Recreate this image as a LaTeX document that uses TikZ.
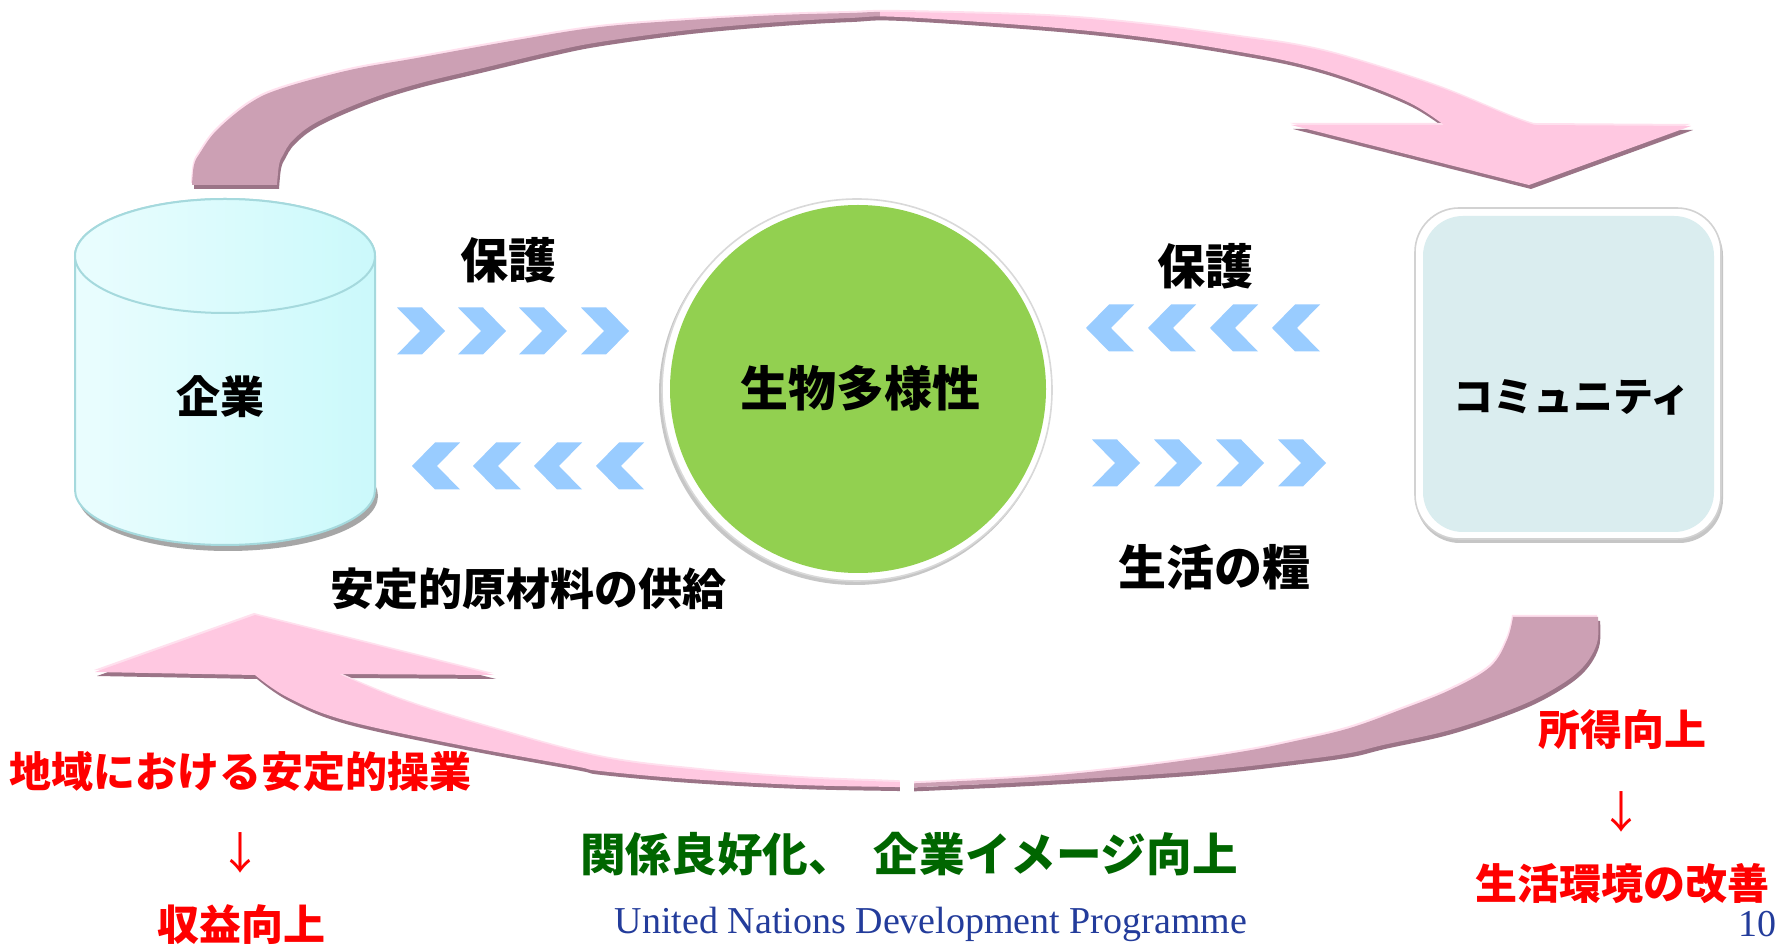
\documentclass[tikz,border=0pt]{standalone}
\usepackage{fontspec}
\setmainfont{Liberation Serif}
\newfontfamily\jp{Noto Sans CJK JP}
\definecolor{mauve}{HTML}{CCA0B4}
\definecolor{shadowc}{HTML}{9B7487}
\definecolor{pinkA}{HTML}{FFC8E1}
\definecolor{pinkL}{HTML}{FFE0EE}
\definecolor{chevc}{HTML}{99CCFF}
\definecolor{bioc}{HTML}{92D050}
\definecolor{commc}{HTML}{DAEDEF}
\definecolor{cylL}{HTML}{EAFDFE}
\definecolor{cylR}{HTML}{CBF9FB}
\definecolor{cylE}{HTML}{A5D9DD}
\definecolor{gtext}{HTML}{006600}
\definecolor{undpblue}{HTML}{233C9B}
\tikzset{
  jtext/.style={inner sep=0pt, font=\jp\bfseries\fontsize{22}{26}\selectfont},
  bigtext/.style={jtext, font=\jp\bfseries\fontsize{24}{28}\selectfont},
  redtext/.style={jtext, text=red, font=\jp\bfseries\fontsize{21}{25}\selectfont},
  arrowtext/.style={inner sep=0pt, text=red, font=\jp\fontsize{22}{26}\selectfont},
  chev/.style={fill=chevc},
}
\newcommand\chevronR[2]{\fill[chev] (#1,#2-23.5) -- (#1+25,#2-23.5) -- (#1+48,#2) -- (#1+25,#2+23.5) -- (#1,#2+23.5) -- (#1+23,#2) -- cycle;}
\newcommand\chevronL[2]{\fill[chev] (#1+48,#2-23.5) -- (#1+23,#2-23.5) -- (#1,#2) -- (#1+23,#2+23.5) -- (#1+48,#2+23.5) -- (#1+25,#2) -- cycle;}
\def\toparrow{plot[smooth,tension=0.6] coordinates {(192,185) (194,165) (200,153) (217,130) (250,103) (283,88) (350,70) (417,58) (517,40) (600,27) (689,20) (780,15) (850,13) (900,12) (1046,16) (1150,25) (1240,37) (1300,46) (1353,59) (1439,87) (1512,117) (1535,125)} -- (1691,126) -- (1529,185) -- (1291,125) -- (1444,125) -- plot[smooth,tension=0.6] coordinates {(1444,125) (1410,103) (1353,80) (1300,64) (1240,52) (1150,38) (1046,27) (900,17) (850,18) (780,22) (689,30) (600,42) (550,52) (483,68) (417,84) (367,100) (317,122) (293,140) (283,155) (279,165) (277,185)} -- cycle}
\def\botarrow{plot[smooth,tension=0.6] coordinates {(1598,617) (1597,643) (1583,667) (1557,687) (1517,707) (1450,730) (1383,745) (1350,753) (1300,760) (1200,771) (1046,781) (921,787) (905,787) (895,787) (800,785) (689,779) (600,771) (574,766) (459,745) (344,720) (287,697) (255,675)} -- (95,672) -- (255,615) -- (494,675) -- (339,674) -- plot[smooth,tension=0.6] coordinates {(339,674) (402,700) (488,727) (600,757) (700,770) (800,778) (895,782) (905,783) (921,783) (1046,776) (1150,765) (1240,752) (1300,740) (1350,728) (1400,710) (1450,690) (1490,667) (1507,640) (1513,617)} -- cycle}
\begin{document}
\begin{tikzpicture}[x=0.5pt,y=-0.5pt]
\useasboundingbox[fill=white] (0,0) rectangle (1789,945);
% top arrow
\fill[shadowc, shift={(2,4)}] \toparrow;
\fill[pinkL, shift={(-1,-2)}] \toparrow;
\begin{scope}\clip (0,0) rectangle (880,300); \fill[mauve] \toparrow; \end{scope}
\begin{scope}\clip (880,0) rectangle (1789,300); \fill[pinkA] \toparrow; \end{scope}
% bottom arrow
\fill[shadowc, shift={(2,4)}] \botarrow;
\fill[pinkL, shift={(-1,-2)}] \botarrow;
\begin{scope}\clip (0,560) rectangle (908,820); \fill[pinkA] \botarrow; \end{scope}
\begin{scope}\clip (908,560) rectangle (1789,820); \fill[mauve] \botarrow; \end{scope}
\fill[white] (900,775) rectangle (914,800);
% cylinder
\fill[gray!70] (228,496) ellipse [x radius=150, y radius=55];
\path[left color=cylL, right color=cylR, draw=cylE, line width=1pt]
  (75,256) -- (75,490) arc[start angle=180, end angle=0, x radius=150, y radius=55]
  -- (375,256) arc[start angle=0, end angle=-180, x radius=150, y radius=57] -- cycle;
\path[left color=cylL, right color=cylR, draw=cylE, line width=1pt] (225,256) ellipse [x radius=150, y radius=57];
% biodiversity circle
\fill[gray!45] (855,393) ellipse [x radius=196, y radius=192];
\fill[white, draw=gray!30, line width=0.8pt] (857,390) ellipse [x radius=195, y radius=191];
\fill[bioc] (858,389) ellipse [x radius=188, y radius=184];
% community box
\fill[gray!45, rounded corners=22pt] (1416,212) rectangle (1723,543);
\fill[white, draw=gray!35, line width=0.8pt, rounded corners=22pt] (1415,208) rectangle (1721,539);
\fill[commc, rounded corners=20pt] (1423,216) rectangle (1714,532);
% chevrons
\foreach \x in {397,458,519,581} {\chevronR{\x}{331}}
\foreach \x in {412,473,534,596} {\chevronL{\x}{466}}
\foreach \x in {1086,1148,1210,1272} {\chevronL{\x}{328}}
\foreach \x in {1092,1154,1216,1278} {\chevronR{\x}{463}}
% texts
\node[jtext] (kigyo) at (220,397) {企業};
\node[bigtext] (hogoL) at (508,260) {保護};
\node[bigtext] (hogoR) at (1205,266) {保護};
\node[bigtext] (bio) at (860,388) {生物多様性};
\node[jtext, font=\jp\bfseries\fontsize{20}{24}\selectfont] (comm) at (1572,397) {コミュニティ};
\node[jtext] (supply) at (528,589) {安定的原材料の供給};
\node[bigtext] (liveli) at (1214,567) {生活の糧};
\node[redtext] (r1) at (241,772) {地域における安定的操業};
\node[arrowtext] (ar1) at (240,853) {↓};
\node[redtext] (r2) at (241,925) {収益向上};
\node[jtext, text=gtext, font=\jp\bfseries\fontsize{22.8}{27}\selectfont] (g) at (909,854) {関係良好化、\hspace{10pt}企業イメージ向上};
\node[redtext] (r3) at (1622,730) {所得向上};
\node[arrowtext] (ar2) at (1621,812) {↓};
\node[redtext] (r4) at (1622,884) {生活環境の改善};
\node[inner sep=0pt, text=undpblue, font=\fontsize{19}{22}\selectfont] (undp) at (931,924) {United Nations Development Programme};
\node[inner sep=0pt, text=undpblue, font=\fontsize{19}{22}\selectfont] (pg) at (1757,924) {10};
\end{tikzpicture}
\end{document}
